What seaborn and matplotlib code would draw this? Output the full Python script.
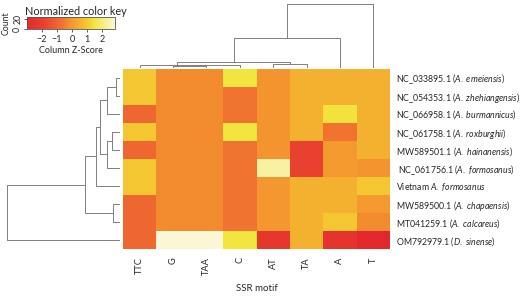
import numpy as np
import pandas as pd
import matplotlib
matplotlib.use('Agg')
import matplotlib.pyplot as plt
import seaborn as sns
from matplotlib.colors import LinearSegmentedColormap

sns.set_style('white')
plt.rcParams['font.family'] = ['Lato', 'DejaVu Sans']
plt.rcParams['mathtext.fontset'] = 'custom'
plt.rcParams['mathtext.rm'] = 'Lato'
plt.rcParams['mathtext.it'] = 'Lato:italic'

# data: column z-scores
motifs = ['TTC', 'G', 'TAA', 'C', 'AT', 'TA', 'A', 'T']
samples = [r'NC_033895.1 ($\mathit{A.\ emeiensis}$)',
           r'NC_054353.1 ($\mathit{A.\ zhehiangensis}$)',
           r'NC_066958.1 ($\mathit{A.\ burmannicus}$)',
           r'NC_061758.1 ($\mathit{A.\ roxburghii}$)',
           r'MW589501.1 ($\mathit{A.\ hainanensis}$)',
           r' NC_061756.1 ($\mathit{A.\ formosanus}$)',
           r'Vietnam $\mathit{A.\ formosanus}$',
           r'MW589500.1 ($\mathit{A.\ chapaensis}$)',
           r'MT041259.1 ($\mathit{A.\ calcareus}$)',
           r'OM792979.1 ($\mathit{D.\ sinense}$)']
z_TTC = [0.95, 0.95, -0.95, 0.95, -0.95, 0.95, 0.95, -0.95, -0.95, -0.95]
z_G   = [-0.32, -0.32, -0.32, -0.32, -0.32, -0.32, -0.32, -0.32, -0.32, 2.85]
z_TAA = [-0.32, -0.32, -0.32, -0.32, -0.32, -0.32, -0.32, -0.32, -0.32, 2.85]
z_C   = [1.45, -0.62, -0.62, 1.45, -0.62, -0.62, -0.62, -0.62, -0.62, 1.45]
z_AT  = [-0.1, -0.1, -0.1, -0.1, -0.1, 2.36, -0.05, -0.05, -0.05, -2.3]
z_TA  = [0.47, 0.47, 0.47, 0.47, -1.9, -1.9, 0.47, 0.47, 0.47, 0.47]
z_A   = [0.47, 0.47, 1.4, -0.65, 0.0, 0.0, 0.47, 0.47, 0.95, -2.5]
z_T   = [0.47, 0.47, 0.47, 0.47, 0.47, -0.1, 0.95, 0.0, -0.3, -3.0]

# dendrograms: (child a, child b, height), scipy-style cluster ids
row_links = [(0, 1, 4), (10, 2, 13), (3, 4, 8), (12, 5, 13), (11, 13, 20),
             (14, 6, 24), (7, 8, 7.5), (15, 16, 35), (17, 9, 113)]
col_links = [(1, 2, 1.5), (8, 3, 2.5), (0, 9, 3), (4, 5, 4), (10, 11, 5.5),
             (12, 6, 29.5), (13, 7, 64)]

df = pd.DataFrame({'TTC': z_TTC, 'G': z_G, 'TAA': z_TAA, 'C': z_C,
                   'AT': z_AT, 'TA': z_TA, 'A': z_A, 'T': z_T},
                  index=samples)[motifs]
vmin, vmax = -3.0, 2.85

cmap = LinearSegmentedColormap.from_list('heatkey', [
    (0.0, '#e3282d'), (0.19, '#e8412f'), (0.41, '#f07530'), (0.46, '#f28a2e'),
    (0.59, '#f4af2f'), (0.675, '#f4c631'), (0.76, '#f2e53c'), (1.0, '#fbf7d6')])

W, H = 528, 299
fig = plt.figure(figsize=(W / 100, H / 100), dpi=100)


def box(x0, y0, x1, y1):
    return [x0 / W, 1 - y1 / H, (x1 - x0) / W, (y1 - y0) / H]


hx0, hx1, hy0, hy1 = 123, 390, 68.5, 249
ax = fig.add_axes(box(hx0, hy0, hx1, hy1))
sns.heatmap(df, ax=ax, cmap=cmap, vmin=vmin, vmax=vmax, cbar=False,
            xticklabels=True, yticklabels=True)
ax.yaxis.tick_right()
ax.tick_params(axis='both', length=0)
ax.tick_params(axis='x', labelsize=6.7, pad=6, rotation=90)
ax.tick_params(axis='y', labelsize=6.3, pad=4, rotation=0)
for t in ax.get_yticklabels():
    t.set_ha('left')
ax.set_ylabel('')
ax.set_xlabel('SSR motif', fontsize=7, labelpad=6)


def dendro(ax, links, n, horiz):
    pos = {i: i + 0.5 for i in range(n)}
    hgt = {i: 0.0 for i in range(n)}
    for k, (a, b, h) in enumerate(links):
        xs = [pos[a], pos[a], pos[b], pos[b]]
        ys = [hgt[a], h, h, hgt[b]]
        if horiz:
            ax.plot(ys, xs, color='#7f7f7f', lw=0.7)
        else:
            ax.plot(xs, ys, color='#7f7f7f', lw=0.7)
        pos[n + k] = (pos[a] + pos[b]) / 2
        hgt[n + k] = h


rax = fig.add_axes(box(0, hy0, 120, hy1))
dendro(rax, row_links, len(samples), True)
rax.set_xlim(120, 0)
rax.set_ylim(len(samples), 0)
rax.axis('off')

cax = fig.add_axes(box(hx0, 0, hx1, hy0 - 1))
dendro(cax, col_links, len(motifs), False)
cax.set_xlim(0, len(motifs))
cax.set_ylim(0, hy0 - 1)
cax.axis('off')

# colour key
kax = fig.add_axes(box(27, 17, 115, 29))
cb = fig.colorbar(ax.collections[0], cax=kax, orientation='horizontal')
cb.set_ticks([-2, -1, 0, 1, 2])
cb.outline.set_edgecolor('#555555')
cb.outline.set_linewidth(0.6)
kax.tick_params(axis='x', labelsize=6.5, length=2.5, width=0.5, pad=1.5)
kax.set_xlabel('Column Z-Score', fontsize=6.5, labelpad=2)
kax.set_title('Normalized color key', fontsize=7.8, pad=1.5, loc='left', x=-0.02)

nax = fig.add_axes(box(27, 17, 115, 29))
nax.patch.set_alpha(0)
nax.set_ylim(0, 24)
nax.set_yticks([0, 20])
nax.set_xticks([])
for s in ['top', 'right', 'bottom', 'left']:
    nax.spines[s].set_visible(False)
nax.tick_params(axis='y', labelsize=6.3, length=2.5, width=0.5, pad=1, left=True)
for t in nax.get_yticklabels():
    t.set_rotation(90)
    t.set_va('center')
nax.set_ylabel('Count', fontsize=6.3, labelpad=2)

fig.savefig('out.png', dpi=100)
